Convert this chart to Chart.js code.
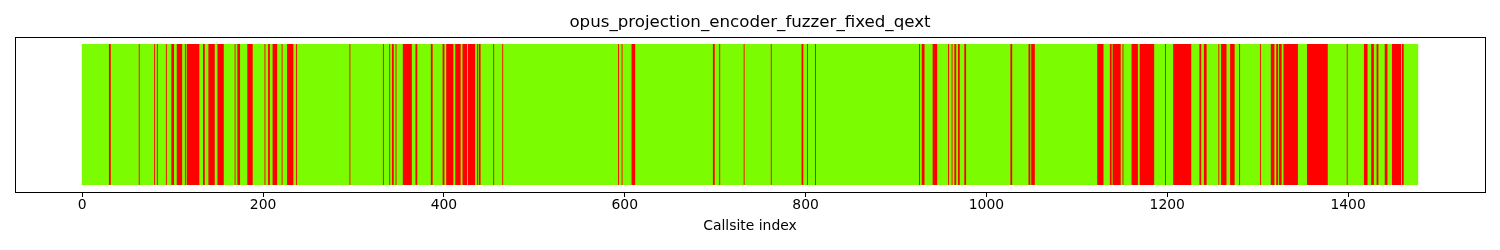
<!DOCTYPE html>
<html>
<head>
<meta charset="utf-8">
<script src="https://cdn.jsdelivr.net/npm/chart.js@4.4.1/dist/chart.umd.min.js"></script>
<style>
  html, body { margin: 0; padding: 0; background: #fff; }
  #wrap { width: 1500px; height: 250px; }
</style>
</head>
<body>
<div id="wrap"><canvas id="myChart" width="1500" height="250"></canvas></div>
<script>
  const chartTitle = 'opus_projection_encoder_fuzzer_fixed_qext';
  const xLabel = 'Callsite index';
  const callsiteCount = 1478;
  const xTicks = [0, 200, 400, 600, 800, 1000, 1200, 1400];

  // callsites that were never hit, as [first, last] index runs
  const missedRuns = [
    [30, 31], [63, 63], [80, 80], [83, 83], [93, 93], [99, 101], [105, 110], [114, 114],
    [116, 129], [134, 135], [140, 146], [150, 156], [169, 169], [172, 174], [183, 188],
    [202, 202], [206, 207], [211, 215], [221, 221], [227, 233], [237, 237],
    [296, 296], [333, 333], [340, 340], [343, 344], [347, 347], [355, 364],
    [369, 370], [386, 387], [399, 400], [403, 410], [413, 418], [421, 425], [427, 434],
    [437, 437], [439, 440], [455, 455], [465, 465],
    [593, 593], [597, 597], [608, 611],
    [698, 699], [705, 705], [732, 732],
    [762, 762], [796, 797], [802, 802], [811, 811],
    [926, 926], [929, 931], [941, 945], [958, 958], [962, 962], [965, 966], [969, 970], [976, 977],
    [1027, 1028], [1047, 1048], [1050, 1053],
    [1123, 1129], [1137, 1138], [1140, 1148], [1151, 1151], [1161, 1167], [1170, 1185],
    [1198, 1198], [1207, 1226], [1236, 1237], [1241, 1243], [1257, 1257], [1260, 1265],
    [1270, 1274], [1280, 1280], [1303, 1303], [1315, 1318], [1321, 1322], [1324, 1326],
    [1329, 1344], [1355, 1377], [1399, 1399], [1418, 1421], [1426, 1428], [1432, 1433],
    [1441, 1443], [1449, 1458], [1460, 1461]
  ];

  const hitColor = '#7CFC00';
  const missColor = '#FF0000';
  const row = 'calls';

  // matplotlib-like 5% margins around the bars
  const span = callsiteCount;
  const xMin = -0.5 - span * 0.05;
  const xMax = callsiteCount - 0.5 + span * 0.05;

  const frame = {
    id: 'frame',
    afterDatasetsDraw(chart) {
      const a = chart.chartArea;
      const ctx = chart.ctx;
      ctx.save();
      ctx.strokeStyle = '#000';
      ctx.lineWidth = 1;
      ctx.strokeRect(Math.round(a.left) + 0.5, Math.round(a.top) + 0.5,
        Math.round(a.right - a.left), Math.round(a.bottom - a.top));
      ctx.restore();
    }
  };

  const font = 'DejaVu Sans';

  function barSet(label, range, color, order) {
    return {
      label: label,
      data: [{ y: row, x: range }],
      backgroundColor: color,
      borderWidth: 0,
      grouped: false,
      barPercentage: 1 / 1.1,
      categoryPercentage: 1,
      order: order
    };
  }

  // one dataset per run so every floating bar sits on the single row
  const datasets = [barSet('hit', [-0.5, callsiteCount - 0.5], hitColor, 1)]
    .concat(missedRuns.map((r, i) => barSet('missed ' + i, [r[0] - 0.5, r[1] + 0.5], missColor, 0)));

  new Chart(document.getElementById('myChart'), {
    type: 'bar',
    data: { labels: [row], datasets: datasets },
    options: {
      indexAxis: 'y',
      responsive: false,
      animation: false,
      devicePixelRatio: 1,
      layout: { padding: { left: 15, right: 15, top: 0, bottom: 0 } },
      plugins: {
        legend: { display: false },
        tooltip: { enabled: false },
        title: {
          display: true,
          text: chartTitle,
          color: '#000',
          font: { family: font, size: 16.67, weight: 'normal' },
          padding: { top: 13, bottom: 4 }
        }
      },
      scales: {
        y: { display: false },
        x: {
          type: 'linear',
          min: xMin,
          max: xMax,
          afterBuildTicks: scale => { scale.ticks = xTicks.map(v => ({ value: v })); },
          afterFit: scale => { scale.height = 58; },
          border: { display: false },
          grid: { display: true, drawOnChartArea: false, drawTicks: true, tickLength: 5, color: '#000' },
          ticks: {
            color: '#000', padding: 0, maxRotation: 0, autoSkip: false,
            font: { family: font, size: 13.9 },
            callback: v => String(v)
          },
          title: {
            display: true,
            text: xLabel,
            color: '#000',
            font: { family: font, size: 13.9 },
            padding: { top: 0, bottom: 15 }
          }
        }
      }
    },
    plugins: [frame]
  });
</script>
</body>
</html>
